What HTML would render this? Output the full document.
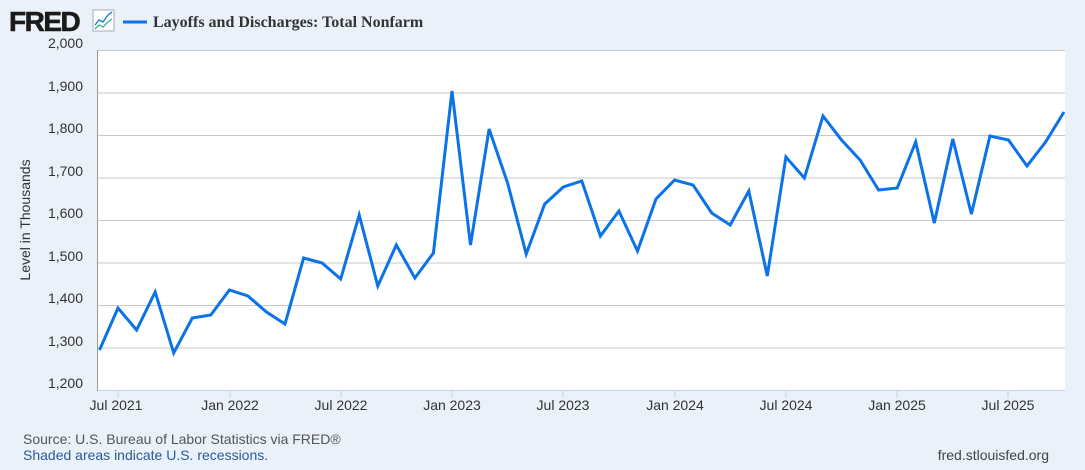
<!DOCTYPE html>
<html><head><meta charset="utf-8"><style>
body{margin:0;width:1085px;height:465px;background:#eaf1f9;font-family:"Liberation Sans",sans-serif;overflow:hidden}
</style></head><body>
<svg width="1085" height="465" xmlns="http://www.w3.org/2000/svg" font-family="Liberation Sans, sans-serif">
<rect width="1085" height="465" fill="#eaf1f9"/>
<text x="9" y="31" font-size="28" font-weight="900" fill="#1a1a1a" letter-spacing="-1.5" stroke="#1a1a1a" stroke-width="0.6">FRED</text>
<rect x="93" y="10" width="21" height="21" fill="#fff" stroke="#aab" stroke-width="1"/>
<polyline points="95,25 99,20 103,22 108,15 112,12" fill="none" stroke="#1a73e8" stroke-width="1.3"/>
<polyline points="95,29 99,25 103,27 108,22 112,19" fill="none" stroke="#3bb08f" stroke-width="1.3"/>
<line x1="123" y1="22" x2="147" y2="22" stroke="#0b72e8" stroke-width="3"/>
<text x="153" y="27" font-family="Liberation Serif, serif" font-size="16" font-weight="bold" fill="#333">Layoffs and Discharges: Total Nonfarm</text>
<rect x="97" y="50" width="968" height="340" fill="#fff"/>
<g stroke="#c8c8c8" stroke-width="1">
<line x1="97" x2="1065" y1="50.5" y2="50.5"/><line x1="97" x2="1065" y1="93" y2="93"/><line x1="97" x2="1065" y1="135.5" y2="135.5"/><line x1="97" x2="1065" y1="178" y2="178"/><line x1="97" x2="1065" y1="220.5" y2="220.5"/><line x1="97" x2="1065" y1="263" y2="263"/><line x1="97" x2="1065" y1="305.5" y2="305.5"/><line x1="97" x2="1065" y1="348" y2="348"/>
</g>
<line x1="97" x2="1065" y1="390.5" y2="390.5" stroke="#c8d2e0"/>
<line x1="97.5" x2="97.5" y1="50" y2="391" stroke="#999"/>
<g stroke="#c8d2e0"><line x1="118" x2="118" y1="391" y2="398"/><line x1="230" x2="230" y1="391" y2="398"/><line x1="341" x2="341" y1="391" y2="398"/><line x1="452" x2="452" y1="391" y2="398"/><line x1="563" x2="563" y1="391" y2="398"/><line x1="675" x2="675" y1="391" y2="398"/><line x1="786" x2="786" y1="391" y2="398"/><line x1="897" x2="897" y1="391" y2="398"/><line x1="1008" x2="1008" y1="391" y2="398"/></g>
<g font-size="14" fill="#333" text-anchor="end">
<text x="83" y="48">2,000</text><text x="83" y="91">1,900</text><text x="83" y="133">1,800</text><text x="83" y="176">1,700</text><text x="83" y="218">1,600</text><text x="83" y="261">1,500</text><text x="83" y="303">1,400</text><text x="83" y="346">1,300</text><text x="83" y="388">1,200</text>
</g>
<text transform="translate(30,220) rotate(-90)" font-size="14" fill="#333" text-anchor="middle">Level in Thousands</text>
<g font-size="14" fill="#333" text-anchor="middle">
<text x="116" y="410">Jul 2021</text><text x="230" y="410">Jan 2022</text><text x="341" y="410">Jul 2022</text><text x="452" y="410">Jan 2023</text><text x="563" y="410">Jul 2023</text><text x="675" y="410">Jan 2024</text><text x="786" y="410">Jul 2024</text><text x="897" y="410">Jan 2025</text><text x="1008" y="410">Jul 2025</text>
</g>
<polyline fill="none" stroke="#0b72e8" stroke-width="3" stroke-linejoin="miter" stroke-miterlimit="4" points="99.5,350 118,308 136.6,330 155.2,292 173.7,353 192.3,318 210.8,315 229.4,290 247.9,296 266.5,312 285,324 303.6,258 322.1,263 340.7,279 359.2,215 377.8,286 396.3,245 414.9,278 433.4,253 452,91 470.5,245 489.1,129 507.6,183 526.2,254 544.7,204 563.3,187 581.8,181 600.4,236 618.9,211 637.5,251 656,199 674.6,180 693.1,185 711.7,213 730.2,225 748.8,191 767.3,276 785.9,157 804.4,178 823,116 841.5,140 860.1,160 878.6,190 897.2,188 915.7,142 934.3,223 952.8,139 971.4,214 989.9,136 1008.5,140 1027,166 1045.6,142 1064,112"/>
<text x="23" y="444" font-size="14" fill="#555">Source: U.S. Bureau of Labor Statistics via FRED®</text>
<text x="23" y="460" font-size="14" fill="#2a5a9a">Shaded areas indicate U.S. recessions.</text>
<text x="1049" y="460" font-size="14" fill="#444" text-anchor="end">fred.stlouisfed.org</text>
</svg>
</body></html>
